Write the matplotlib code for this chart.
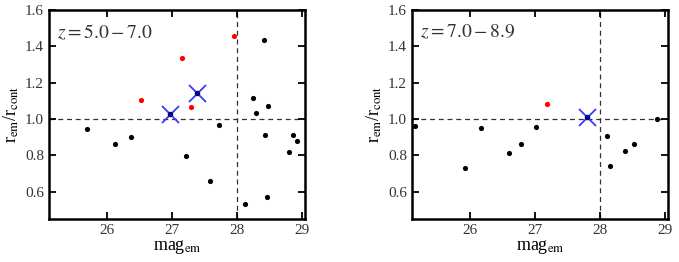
import matplotlib.pyplot as plt

plt.rcParams['font.family'] = ['Liberation Serif', 'DejaVu Serif']
plt.rcParams['mathtext.fontset'] = 'stix'

# panel 1: z = 5.0 - 7.0
mag_black_1 = [25.68, 26.12, 26.36, 27.21, 27.58, 27.73, 28.12, 28.25, 28.29,
               28.42, 28.44, 28.46, 28.48, 28.80, 28.87, 28.92]
ratio_black_1 = [0.943, 0.865, 0.903, 0.794, 0.658, 0.967, 0.532, 1.115, 1.033,
                 1.433, 0.914, 0.573, 1.071, 0.817, 0.910, 0.878]
mag_red_1 = [26.52, 27.15, 27.29, 27.95]
ratio_red_1 = [1.104, 1.336, 1.069, 1.458]
mag_cross_1 = [26.96, 27.39]
ratio_cross_1 = [1.029, 1.146]

# panel 2: z = 7.0 - 8.9
mag_black_2 = [25.15, 25.92, 26.17, 26.59, 26.78, 27.01, 28.11, 28.15, 28.38,
               28.52, 28.88]
ratio_black_2 = [0.960, 0.728, 0.953, 0.812, 0.865, 0.954, 0.907, 0.744, 0.826,
                 0.863, 0.998]
mag_red_2 = [27.18]
ratio_red_2 = [1.082]
mag_cross_2 = [27.80]
ratio_cross_2 = [1.013]

panels = [
    ('$z = 5.0 - 7.0$', mag_black_1, ratio_black_1, mag_red_1, ratio_red_1,
     mag_cross_1, ratio_cross_1),
    ('$z = 7.0 - 8.9$', mag_black_2, ratio_black_2, mag_red_2, ratio_red_2,
     mag_cross_2, ratio_cross_2),
]

fig = plt.figure(figsize=(6.79, 2.62), dpi=100)
lefts = [49 / 679, 412 / 679]
for left, (label, mb, rb, mr, rr, mc, rc) in zip(lefts, panels):
    ax = fig.add_axes([left, 43 / 262, 256 / 679, 209 / 262])
    ax.axhline(1.0, color='#333333', ls=(0, (4, 3)), lw=0.9, zorder=1)
    ax.axvline(28.0, color='#333333', ls=(0, (4, 3)), lw=0.9, zorder=1)
    ax.scatter(mb, rb, s=14, color='black', lw=0, zorder=3)
    ax.scatter(mr, rr, s=14, color='red', lw=0, zorder=3)
    ax.scatter(mc, rc, s=150, marker='x', color='#3a3aff', lw=1.3, zorder=4)
    ax.scatter(mc, rc, s=16, color='#00007a', lw=0, zorder=5)
    ax.set_xlim(25.1, 29.05)
    ax.set_ylim(0.45, 1.6)
    ax.set_xticks([26, 27, 28, 29])
    ax.set_yticks([0.6, 0.8, 1.0, 1.2, 1.4, 1.6])
    ax.set_yticklabels(['0.6', '0.8', '1.0', '1.2', '1.4', '1.6'])
    ax.tick_params(direction='in', top=True, right=True, length=5, width=1.3,
                   labelsize=11, colors='black', labelcolor='#333333')
    for sp in ax.spines.values():
        sp.set_linewidth(1.8)
    ax.set_xlabel(r'mag$_{\rm em}$', fontsize=13, labelpad=1)
    ax.set_ylabel(r'r$_{\rm em}$/r$_{\rm cont}$', fontsize=13, labelpad=3)
    ax.text(0.03, 0.94, label, transform=ax.transAxes, fontsize=14,
            va='top', ha='left', color='#333333')

fig.savefig('out.png', dpi=100)
